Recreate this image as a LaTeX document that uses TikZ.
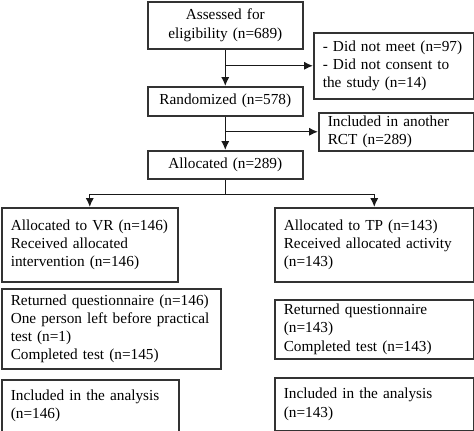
\documentclass[tikz,border=0pt]{standalone}
\usepackage{fontspec}
\setmainfont{Liberation Serif}
\usetikzlibrary{arrows.meta,calc}

\tikzset{
  box/.style={draw=black!80,line width=0.9pt,rectangle,anchor=north west,
    inner xsep=0.18cm,inner ysep=0pt,align=left,
    font=\fontsize{8.7}{10.4}\selectfont},
  link/.style={draw=black!90,line width=0.8pt}
}

\begin{document}
\begin{tikzpicture}[x=0.02cm,y=-0.02cm,>={Latex[length=5pt,width=4.6pt]}]
\useasboundingbox (0,0) rectangle (474,431);

% The boxes, placed by their top-left corners.
\node[box,align=center,text width=2.74cm,minimum height=0.94cm] (assess) at (147,1) {Assessed for\\eligibility (n=689)};
\node[box,text width=2.84cm,minimum height=1.32cm] (excl1) at (313,32) {- Did not meet (n=97)\\- Did not consent to\\the study (n=14)};
\node[box,align=center,text width=2.74cm,minimum height=0.58cm] (rand) at (147,86) {Randomized (n=578)};
\node[box,text width=2.74cm,minimum height=0.76cm] (excl2) at (318,112) {Included in another\\RCT (n=289)};
\node[box,align=center,text width=2.74cm,minimum height=0.56cm] (alloc) at (147,150) {Allocated (n=289)};

\node[box,text width=3.16cm,minimum height=1.48cm] (vr) at (1,207) {Allocated to VR (n=146)\\Received allocated\\intervention (n=146)};
\node[box,text width=3.62cm,minimum height=1.48cm] (tp) at (274,207) {Allocated to TP (n=143)\\Received allocated activity\\(n=143)};
\node[box,text width=4.02cm,minimum height=1.60cm] (retvr) at (1,288) {Returned questionnaire (n=146)\\One person left before practical\\test (n=1)\\Completed test (n=145)};
\node[box,text width=3.62cm,minimum height=1.18cm] (rettp) at (274,299) {Returned questionnaire\\(n=143)\\Completed test (n=143)};
\node[box,text width=3.18cm,minimum height=1.04cm] (incvr) at (1,379) {Included in the analysis\\(n=146)};
\node[box,text width=3.62cm,minimum height=1.06cm] (inctp) at (274,377) {Included in the analysis\\(n=143)};

% Connectors.
\coordinate (j1) at (assess.south |- excl1.west);
\coordinate (j2) at (rand.south |- excl2.west);
\coordinate (split) at ($(alloc.south)+(0,15)$);

\draw[link,->] (assess) -- (rand);
\draw[link,->] (j1) -- (excl1.west);
\draw[link,->] (rand) -- (alloc);
\draw[link,->] (j2) -- (excl2.west);
\draw[link] (alloc) -- (split);
\draw[link,->] (split) -| (vr.north);
\draw[link,->] (split) -| (tp.north);
\end{tikzpicture}
\end{document}
